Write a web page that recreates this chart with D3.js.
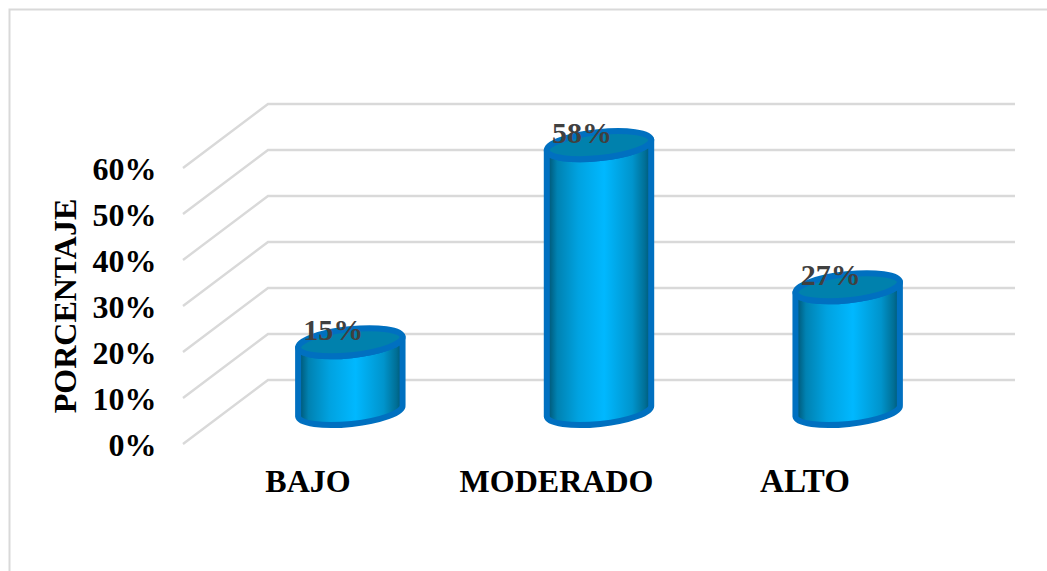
<!DOCTYPE html>
<html><head><meta charset="utf-8">
<script src="https://cdn.jsdelivr.net/npm/d3@7"></script>
<style>html,body{margin:0;padding:0;background:#fff}svg{display:block}text{font-family:"Liberation Serif",serif;font-weight:bold}</style>
</head><body><svg id="c" width="1047" height="571"></svg>
<script>
const categories = ["BAJO","MODERADO","ALTO"];
const values = [15,58,27];
const tickValues = [0,10,20,30,40,50,60];
const axisTitle = "PORCENTAJE";

const svg = d3.select("#c");
const defs = svg.append("defs");
const grad = defs.append("linearGradient").attr("id","cyl");
[[0,"#004f6b"],[0.1,"#0082b2"],[0.3,"#00a2e0"],[0.55,"#00b8ff"],[0.82,"#0094cc"],[0.94,"#006f96"],[1,"#00536f"]]
  .forEach(([o,c])=>grad.append("stop").attr("offset",o).attr("stop-color",c));

svg.append("path").attr("d","M1047,9.5H9.5V571").attr("fill","none").attr("stroke","#d9d9d9").attr("stroke-width",2);

// back-wall scale for the gridlines, front-plane scale for the bars
const yBack = d3.scaleLinear().domain([0,60]).range([380,104]);
const yBar = d3.scaleLinear().domain([0,60]).range([411,136]);
const x = d3.scaleBand().domain(categories).range([226,972]);
const depthX = 85, depthY = 64;

const grid = svg.append("g").attr("fill","none").attr("stroke","#d9d9d9").attr("stroke-width",2.4);
tickValues.forEach(t=>{
  const y = yBack(t);
  grid.append("path").attr("d",`M${268-depthX},${y+depthY}L268,${y}H1015`);
});

svg.append("g").selectAll("text").data(tickValues).join("text")
  .attr("x",156.5).attr("y",d=>yBack(d)+76).attr("text-anchor","end")
  .attr("font-size",32).attr("fill","#000").text(d=>d+"%");

svg.append("text").attr("transform","translate(76,306) rotate(-90)")
  .attr("text-anchor","middle").attr("font-size",32).attr("fill","#000").text(axisTitle);

const rx=52.5, ry=13, rot=-6, a=rot*Math.PI/180;
const dx=rx*Math.cos(a), dy=rx*Math.sin(a);
const bars = svg.append("g").selectAll("g").data(categories).join("g");
bars.each(function(c,i){
  const g=d3.select(this), cx=x(c)+x.bandwidth()/2, yt=yBar(values[i]), yb=yBar(0);
  g.append("path")
    .attr("d",`M${cx-dx},${yt-dy}L${cx-dx},${yb-dy}A${rx},${ry} ${rot} 0 0 ${cx+dx},${yb+dy}L${cx+dx},${yt+dy}A${rx},${ry} ${rot} 0 1 ${cx-dx},${yt-dy}Z`)
    .attr("fill","url(#cyl)").attr("stroke","#0070c0").attr("stroke-width",6).attr("stroke-linejoin","round");
  g.append("ellipse").attr("cx",cx).attr("cy",yt).attr("rx",rx).attr("ry",ry)
    .attr("transform",`rotate(${rot} ${cx} ${yt})`)
    .attr("fill","#0081ad").attr("stroke","#0070c0").attr("stroke-width",6);
  g.append("text").attr("x",cx-17).attr("y",yt-2).attr("text-anchor","middle")
    .attr("font-size",30).attr("fill","#404040").text(values[i]+"%");
});

svg.append("g").selectAll("text").data(categories).join("text")
  .attr("x",(d,i)=>[308,556.5,805][i]).attr("y",492).attr("text-anchor","middle")
  .attr("font-size",(d,i)=>i===2?33:32).attr("fill","#000").text(d=>d);
</script></body></html>
